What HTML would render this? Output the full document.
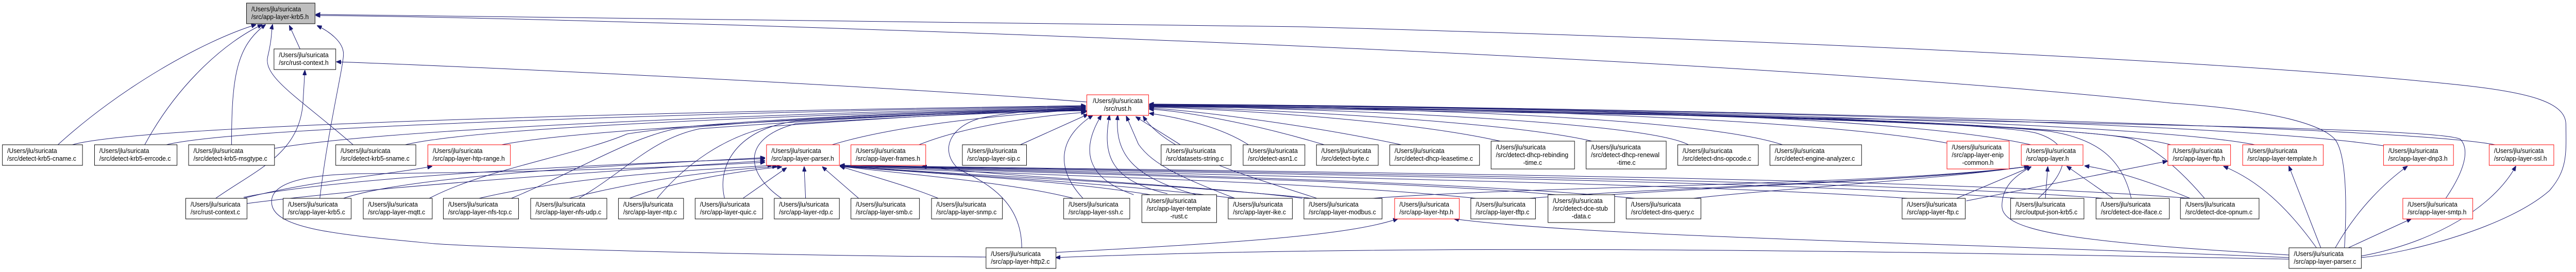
<!DOCTYPE html>
<html><head><meta charset="utf-8"><style>
html,body{margin:0;padding:0;background:#fff;width:100%;height:100%;overflow:hidden;}
svg{position:fixed;left:0;top:0;width:100vw;height:100vh;display:block;}
text{font-family:"Liberation Sans",sans-serif;font-size:13px;fill:#000;}
.n{fill:#fff;stroke:#000;stroke-width:1;}
.r{fill:#fff;stroke:#f00;stroke-width:1;}
.e{fill:none;stroke:#191970;stroke-width:1;}
</style></head><body>
<svg viewBox="0 0 5340 528" preserveAspectRatio="none" xmlns="http://www.w3.org/2000/svg">
<defs><marker id="a" markerWidth="10" markerHeight="8" refX="9" refY="4" orient="auto" markerUnits="userSpaceOnUse"><path d="M0,0 L10,4 L0,8 z" fill="#191970" stroke="#191970"/></marker></defs>
<rect width="5340" height="528" fill="#fff"/>
<g>
<path class="e" marker-end="url(#a)" d="M120,281 C250,170 420,80 530,48"/>
<path class="e" marker-end="url(#a)" d="M300,281 C370,160 470,80 543,48"/>
<path class="e" marker-end="url(#a)" d="M480,281 C480,150 490,90 550,48"/>
<path class="e" marker-end="url(#a)" d="M732,281 C620,190 545,150 555,110 S562,60 565,48"/>
<path class="e" marker-end="url(#a)" d="M622,95 L600,50"/>
<path class="e" marker-end="url(#a)" d="M663,385 C680,250 712,130 712,105 C712,80 680,60 658,50"/>
<path class="e" marker-end="url(#a)" d="M4895,500 C5000,490 5200,440 5285,370 C5322,330 5320,300 5319,240 C5317,200 5250,180 5100,165 C4700,125 3800,80 2700,52 C1800,35 900,31 655,28"/>
<path class="e" marker-end="url(#a)" d="M4860,481 C4865,400 4865,300 4840,270 C4800,230 4650,210 4500,200 C3800,130 2600,80 1500,48 C1200,40 900,32 655,30"/>
<path class="e" marker-end="url(#a)" d="M447,385 C530,330 620,300 628,200 L632,137"/>
<path class="e" marker-end="url(#a)" d="M2253,198 C1800,165 1000,130 698,120"/>
<path class="e" marker-end="url(#a)" d="M505,383 C700,345 1200,320 1585,308"/>
<path class="e" marker-end="url(#a)" d="M512,395 C800,360 1300,330 1585,312"/>
<path class="e" marker-end="url(#a)" d="M505,385 C650,350 800,340 895,323"/>
<path class="e" marker-end="url(#a)" d="M150,281 C300,240 1500,215 2250,205"/>
<path class="e" marker-end="url(#a)" d="M345,281 C500,245 1500,218 2250,206"/>
<path class="e" marker-end="url(#a)" d="M569,288 C800,250 1600,220 2250,207"/>
<path class="e" marker-end="url(#a)" d="M840,281 C1000,245 1700,222 2250,208"/>
<path class="e" marker-end="url(#a)" d="M1040,281 C1200,250 1800,225 2250,209"/>
<path class="e" marker-end="url(#a)" d="M1725,281 C1850,245 2050,225 2250,212"/>
<path class="e" marker-end="url(#a)" d="M1905,281 C2000,245 2150,225 2250,218"/>
<path class="e" marker-end="url(#a)" d="M2115,281 L2255,222"/>
<path class="e" marker-end="url(#a)" d="M2447,281 L2355,227"/>
<path class="e" marker-end="url(#a)" d="M2588,281 C2520,240 2420,225 2383,220"/>
<path class="e" marker-end="url(#a)" d="M2745,281 C2600,240 2450,215 2383,212"/>
<path class="e" marker-end="url(#a)" d="M2905,281 C2700,240 2450,212 2383,210"/>
<path class="e" marker-end="url(#a)" d="M3110,274 C2900,230 2500,210 2383,208"/>
<path class="e" marker-end="url(#a)" d="M3300,274 C3100,230 2500,208 2383,207"/>
<path class="e" marker-end="url(#a)" d="M3500,281 C3400,230 2600,207 2383,206"/>
<path class="e" marker-end="url(#a)" d="M3695,281 C3500,220 2700,206 2383,205"/>
<path class="e" marker-end="url(#a)" d="M4038,278 C3700,220 2800,206 2383,205"/>
<path class="e" marker-end="url(#a)" d="M4210,281 C3900,215 2900,205 2383,204"/>
<path class="e" marker-end="url(#a)" d="M4500,281 C4300,230 3000,205 2383,204"/>
<path class="e" marker-end="url(#a)" d="M4674,281 C4400,230 3000,205 2383,203"/>
<path class="e" marker-end="url(#a)" d="M4955,285 C4600,230 3100,206 2383,203"/>
<path class="e" marker-end="url(#a)" d="M5172,281 C4950,240 3200,206 2383,202"/>
<path class="e" marker-end="url(#a)" d="M890,385 C1000,330 1200,300 1300,260 C1500,230 2000,215 2250,210"/>
<path class="e" marker-end="url(#a)" d="M712,385 C850,340 1300,320 1585,306"/>
<path class="e" marker-end="url(#a)" d="M1060,385 C1200,330 1300,270 1400,250 C1700,225 2000,215 2250,211"/>
<path class="e" marker-end="url(#a)" d="M1200,385 C1300,330 1350,270 1450,250 C1800,225 2100,215 2250,212"/>
<path class="e" marker-end="url(#a)" d="M1362,385 C1420,320 1500,265 1600,245 C1900,225 2100,215 2250,213"/>
<path class="e" marker-end="url(#a)" d="M1502,385 C1485,320 1530,250 1650,235 C1900,222 2100,216 2250,214"/>
<path class="e" marker-end="url(#a)" d="M1620,385 C1550,340 1530,270 1650,240 C1900,225 2100,217 2250,215"/>
<path class="e" marker-end="url(#a)" d="M2245,385 C2190,330 2190,270 2265,224"/>
<path class="e" marker-end="url(#a)" d="M2350,378 C2250,345 2240,290 2283,224"/>
<path class="e" marker-end="url(#a)" d="M2420,376 C2300,350 2285,300 2300,224"/>
<path class="e" marker-end="url(#a)" d="M2480,378 C2350,345 2310,300 2317,224"/>
<path class="e" marker-end="url(#a)" d="M2560,385 C2450,345 2390,320 2360,280 L2335,226"/>
<path class="e" marker-end="url(#a)" d="M2730,385 C2600,345 2420,300 2370,226"/>
<path class="e" marker-end="url(#a)" d="M993,385 C1200,340 1450,330 1600,321"/>
<path class="e" marker-end="url(#a)" d="M1180,385 C1350,345 1500,330 1610,323"/>
<path class="e" marker-end="url(#a)" d="M1305,385 C1400,350 1550,330 1620,324"/>
<path class="e" marker-end="url(#a)" d="M1540,385 L1630,326"/>
<path class="e" marker-end="url(#a)" d="M1670,385 L1667,324"/>
<path class="e" marker-end="url(#a)" d="M1780,385 L1705,324"/>
<path class="e" marker-end="url(#a)" d="M1945,385 C1880,360 1800,340 1742,323"/>
<path class="e" marker-end="url(#a)" d="M2225,385 C2100,355 1900,340 1742,323"/>
<path class="e" marker-end="url(#a)" d="M2385,378 C2200,350 1950,338 1742,323"/>
<path class="e" marker-end="url(#a)" d="M2560,385 C2300,355 2000,340 1742,323"/>
<path class="e" marker-end="url(#a)" d="M2720,385 C2400,355 2000,340 1742,322"/>
<path class="e" marker-end="url(#a)" d="M3060,385 C2700,350 2100,340 1742,322"/>
<path class="e" marker-end="url(#a)" d="M3225,378 C2900,350 2200,338 1742,322"/>
<path class="e" marker-end="url(#a)" d="M3390,385 C3000,350 2300,338 1742,321"/>
<path class="e" marker-end="url(#a)" d="M3955,385 C3500,355 2500,340 1742,321"/>
<path class="e" marker-end="url(#a)" d="M4180,385 C3700,350 2600,338 1742,321"/>
<path class="e" marker-end="url(#a)" d="M4360,385 C3900,350 2700,336 1742,321"/>
<path class="e" marker-end="url(#a)" d="M4540,385 C4000,345 2800,335 1742,321"/>
<path class="e" marker-end="url(#a)" d="M4056,385 L4210,324"/>
<path class="e" marker-end="url(#a)" d="M4240,385 L4245,324"/>
<path class="e" marker-end="url(#a)" d="M4380,385 L4285,323"/>
<path class="e" marker-end="url(#a)" d="M4540,385 C4450,350 4380,330 4322,322"/>
<path class="e" marker-end="url(#a)" d="M2845,385 C3200,360 3900,360 4205,323"/>
<path class="e" marker-end="url(#a)" d="M3170,385 C3500,360 3950,355 4205,323"/>
<path class="e" marker-end="url(#a)" d="M3340,378 C3600,360 4000,350 4205,323"/>
<path class="e" marker-end="url(#a)" d="M3510,385 C3700,365 4000,350 4205,323"/>
<path class="e" marker-end="url(#a)" d="M4745,495 C4300,470 4150,450 4150,400 C4150,360 4180,340 4210,324"/>
<path class="e" marker-end="url(#a)" d="M4076,390 L4492,313"/>
<path class="e" marker-end="url(#a)" d="M4225,385 C4290,330 4300,280 4220,258 C4100,230 3000,208 2383,205"/>
<path class="e" marker-end="url(#a)" d="M4418,385 C4400,310 4350,270 4250,255 C4000,230 3000,210 2383,206"/>
<path class="e" marker-end="url(#a)" d="M4570,385 C4520,330 4470,290 4420,270 C4300,240 3200,212 2383,206"/>
<path class="e" marker-end="url(#a)" d="M4802,481 C4740,400 4680,350 4610,323"/>
<path class="e" marker-end="url(#a)" d="M4811,481 L4745,323"/>
<path class="e" marker-end="url(#a)" d="M4841,481 C4890,400 4950,350 4990,323"/>
<path class="e" marker-end="url(#a)" d="M4868,481 L4998,425"/>
<path class="e" marker-end="url(#a)" d="M4895,497 C5050,470 5170,400 5215,323"/>
<path class="e" marker-end="url(#a)" d="M4745,500 C4000,470 3300,460 3015,425"/>
<path class="e" marker-end="url(#a)" d="M4745,503 C4000,490 3000,470 2189,500"/>
<path class="e" marker-end="url(#a)" d="M2044,499 C1500,495 1000,480 900,473 C700,455 560,445 563,390 C565,350 650,338 760,337 C1100,335 1400,325 1585,315"/>
<path class="e" marker-end="url(#a)" d="M2118,481 C2118,400 2060,360 1990,330 C1950,300 1960,250 2030,230 C2100,215 2200,212 2253,216"/>
<path class="e" marker-end="url(#a)" d="M2189,490 C2600,470 2800,455 2897,425"/>
<path class="e" marker-end="url(#a)" d="M2700,385 C2500,360 2100,345 1912,323"/>
<path class="e" marker-end="url(#a)" d="M5070,385 C5110,330 5120,290 5100,270 C5050,250 4500,240 2383,206"/>
</g>
<g>
<rect x="511" y="6" width="142" height="40" fill="#bfbfbf" stroke="#000"/>
<text x="521" y="22">/Users/jlu/suricata</text><text x="521" y="37">/src/app-layer-krb5.h</text>
<rect class="n" x="568" y="95" width="128" height="40"/>
<text x="578" y="111">/Users/jlu/suricata</text><text x="578" y="126">/src/rust-context.h</text>
<rect class="r" x="2253" y="184" width="128" height="40"/>
<text x="2317" y="200" text-anchor="middle">/Users/jlu/suricata</text><text x="2317" y="215" text-anchor="middle">/src/rust.h</text>

<rect class="n" x="5" y="281" width="166" height="40"/><text x="15" y="297">/Users/jlu/suricata</text><text x="15" y="312">/src/detect-krb5-cname.c</text>
<rect class="n" x="196" y="281" width="171" height="40"/><text x="206" y="297">/Users/jlu/suricata</text><text x="206" y="312">/src/detect-krb5-errcode.c</text>
<rect class="n" x="391" y="281" width="178" height="40"/><text x="401" y="297">/Users/jlu/suricata</text><text x="401" y="312">/src/detect-krb5-msgtype.c</text>
<rect class="n" x="696" y="281" width="166" height="40"/><text x="706" y="297">/Users/jlu/suricata</text><text x="706" y="312">/src/detect-krb5-sname.c</text>
<rect class="r" x="887" y="281" width="171" height="40"/><text x="897" y="297">/Users/jlu/suricata</text><text x="897" y="312">/src/app-layer-htp-range.h</text>
<rect class="r" x="1589" y="281" width="151" height="40"/><text x="1599" y="297">/Users/jlu/suricata</text><text x="1599" y="312">/src/app-layer-parser.h</text>
<rect class="r" x="1764" y="281" width="155" height="40"/><text x="1774" y="297">/Users/jlu/suricata</text><text x="1774" y="312">/src/app-layer-frames.h</text>
<rect class="n" x="1995" y="281" width="133" height="40"/><text x="2005" y="297">/Users/jlu/suricata</text><text x="2005" y="312">/src/app-layer-sip.c</text>
<rect class="n" x="2407" y="281" width="145" height="40"/><text x="2417" y="297">/Users/jlu/suricata</text><text x="2417" y="312">/src/datasets-string.c</text>
<rect class="n" x="2577" y="281" width="128" height="40"/><text x="2587" y="297">/Users/jlu/suricata</text><text x="2587" y="312">/src/detect-asn1.c</text>
<rect class="n" x="2729" y="281" width="128" height="40"/><text x="2739" y="297">/Users/jlu/suricata</text><text x="2739" y="312">/src/detect-byte.c</text>
<rect class="n" x="2881" y="281" width="186" height="40"/><text x="2891" y="297">/Users/jlu/suricata</text><text x="2891" y="312">/src/detect-dhcp-leasetime.c</text>
<rect class="n" x="3091" y="274" width="173" height="54"/><text x="3101" y="290">/Users/jlu/suricata</text><text x="3101" y="305">/src/detect-dhcp-rebinding</text><text x="3177" y="320" text-anchor="middle">-time.c</text>
<rect class="n" x="3288" y="274" width="166" height="54"/><text x="3298" y="290">/Users/jlu/suricata</text><text x="3298" y="305">/src/detect-dhcp-renewal</text><text x="3371" y="320" text-anchor="middle">-time.c</text>
<rect class="n" x="3478" y="281" width="167" height="40"/><text x="3488" y="297">/Users/jlu/suricata</text><text x="3488" y="312">/src/detect-dns-opcode.c</text>
<rect class="n" x="3669" y="281" width="190" height="40"/><text x="3679" y="297">/Users/jlu/suricata</text><text x="3679" y="312">/src/detect-engine-analyzer.c</text>
<rect class="r" x="4036" y="274" width="129" height="54"/><text x="4046" y="290">/Users/jlu/suricata</text><text x="4046" y="305">/src/app-layer-enip</text><text x="4100" y="320" text-anchor="middle">-common.h</text>
<rect class="r" x="4190" y="281" width="128" height="40"/><text x="4200" y="297">/Users/jlu/suricata</text><text x="4200" y="312">/src/app-layer.h</text>
<rect class="r" x="4494" y="281" width="130" height="40"/><text x="4504" y="297">/Users/jlu/suricata</text><text x="4504" y="312">/src/app-layer-ftp.h</text>
<rect class="r" x="4649" y="281" width="167" height="40"/><text x="4659" y="297">/Users/jlu/suricata</text><text x="4659" y="312">/src/app-layer-template.h</text>
<rect class="r" x="4941" y="281" width="145" height="40"/><text x="4951" y="297">/Users/jlu/suricata</text><text x="4951" y="312">/src/app-layer-dnp3.h</text>
<rect class="r" x="5160" y="281" width="134" height="40"/><text x="5170" y="297">/Users/jlu/suricata</text><text x="5170" y="312">/src/app-layer-ssl.h</text>

<rect class="n" x="385" y="385" width="127" height="40"/><text x="395" y="401">/Users/jlu/suricata</text><text x="395" y="416">/src/rust-context.c</text>
<rect class="n" x="587" y="385" width="141" height="40"/><text x="597" y="401">/Users/jlu/suricata</text><text x="597" y="416">/src/app-layer-krb5.c</text>
<rect class="n" x="753" y="385" width="143" height="40"/><text x="763" y="401">/Users/jlu/suricata</text><text x="763" y="416">/src/app-layer-mqtt.c</text>
<rect class="n" x="919" y="385" width="156" height="40"/><text x="929" y="401">/Users/jlu/suricata</text><text x="929" y="416">/src/app-layer-nfs-tcp.c</text>
<rect class="n" x="1100" y="385" width="158" height="40"/><text x="1110" y="401">/Users/jlu/suricata</text><text x="1110" y="416">/src/app-layer-nfs-udp.c</text>
<rect class="n" x="1282" y="385" width="135" height="40"/><text x="1292" y="401">/Users/jlu/suricata</text><text x="1292" y="416">/src/app-layer-ntp.c</text>
<rect class="n" x="1441" y="385" width="140" height="40"/><text x="1451" y="401">/Users/jlu/suricata</text><text x="1451" y="416">/src/app-layer-quic.c</text>
<rect class="n" x="1605" y="385" width="135" height="40"/><text x="1615" y="401">/Users/jlu/suricata</text><text x="1615" y="416">/src/app-layer-rdp.c</text>
<rect class="n" x="1764" y="385" width="142" height="40"/><text x="1774" y="401">/Users/jlu/suricata</text><text x="1774" y="416">/src/app-layer-smb.c</text>
<rect class="n" x="1931" y="385" width="147" height="40"/><text x="1941" y="401">/Users/jlu/suricata</text><text x="1941" y="416">/src/app-layer-snmp.c</text>
<rect class="n" x="2205" y="385" width="137" height="40"/><text x="2215" y="401">/Users/jlu/suricata</text><text x="2215" y="416">/src/app-layer-ssh.c</text>
<rect class="n" x="2367" y="378" width="155" height="54"/><text x="2377" y="394">/Users/jlu/suricata</text><text x="2377" y="409">/src/app-layer-template</text><text x="2444" y="424" text-anchor="middle">-rust.c</text>
<rect class="n" x="2546" y="385" width="133" height="40"/><text x="2556" y="401">/Users/jlu/suricata</text><text x="2556" y="416">/src/app-layer-ike.c</text>
<rect class="n" x="2703" y="385" width="162" height="40"/><text x="2713" y="401">/Users/jlu/suricata</text><text x="2713" y="416">/src/app-layer-modbus.c</text>
<rect class="r" x="2891" y="385" width="134" height="40"/><text x="2901" y="401">/Users/jlu/suricata</text><text x="2901" y="416">/src/app-layer-htp.h</text>
<rect class="n" x="3049" y="385" width="134" height="40"/><text x="3059" y="401">/Users/jlu/suricata</text><text x="3059" y="416">/src/app-layer-tftp.c</text>
<rect class="n" x="3209" y="378" width="138" height="54"/><text x="3219" y="394">/Users/jlu/suricata</text><text x="3219" y="409">/src/detect-dce-stub</text><text x="3278" y="424" text-anchor="middle">-data.c</text>
<rect class="n" x="3371" y="385" width="155" height="40"/><text x="3381" y="401">/Users/jlu/suricata</text><text x="3381" y="416">/src/detect-dns-query.c</text>
<rect class="n" x="3943" y="385" width="131" height="40"/><text x="3953" y="401">/Users/jlu/suricata</text><text x="3953" y="416">/src/app-layer-ftp.c</text>
<rect class="n" x="4168" y="385" width="152" height="40"/><text x="4178" y="401">/Users/jlu/suricata</text><text x="4178" y="416">/src/output-json-krb5.c</text>
<rect class="n" x="4345" y="385" width="152" height="40"/><text x="4355" y="401">/Users/jlu/suricata</text><text x="4355" y="416">/src/detect-dce-iface.c</text>
<rect class="n" x="4520" y="385" width="163" height="40"/><text x="4530" y="401">/Users/jlu/suricata</text><text x="4530" y="416">/src/detect-dce-opnum.c</text>
<rect class="r" x="4981" y="385" width="145" height="40"/><text x="4991" y="401">/Users/jlu/suricata</text><text x="4991" y="416">/src/app-layer-smtp.h</text>

<rect class="n" x="2044" y="481" width="145" height="40"/><text x="2054" y="497">/Users/jlu/suricata</text><text x="2054" y="512">/src/app-layer-http2.c</text>
<rect class="n" x="4745" y="481" width="150" height="40"/><text x="4755" y="497">/Users/jlu/suricata</text><text x="4755" y="512">/src/app-layer-parser.c</text>
</g>
</svg>
</body></html>
